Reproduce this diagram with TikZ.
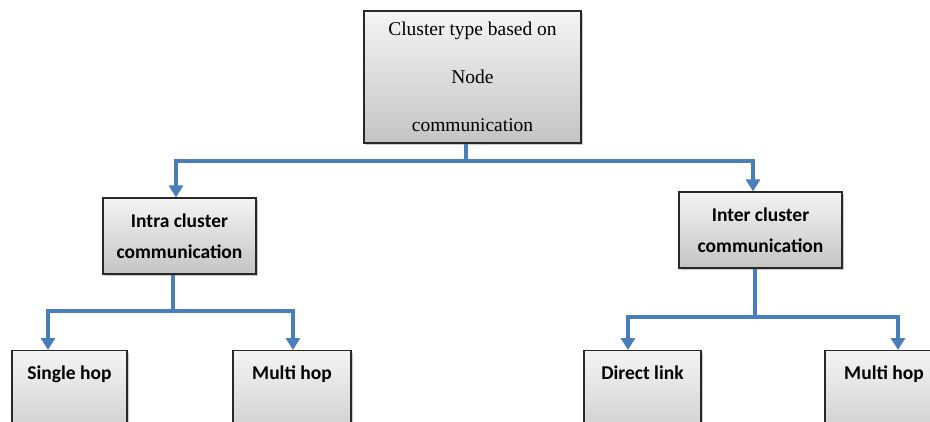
\documentclass[tikz,border=0pt]{standalone}
\usepackage{fontspec}
\setmainfont{Liberation Serif}
\newfontfamily\labelfont{Carlito}
\usetikzlibrary{arrows.meta,shadows}

\definecolor{linkblue}{RGB}{74,126,187}
\definecolor{boxtop}{RGB}{244,244,244}
\definecolor{boxbottom}{RGB}{196,196,196}
\definecolor{boxedge}{RGB}{40,40,40}

\tikzset{
  box/.style={draw=boxedge, line width=1.1pt, top color=boxtop, bottom color=boxbottom,
    inner sep=0pt, align=center,
    drop shadow={shadow xshift=2pt, shadow yshift=-2pt, opacity=0.35, fill=black!60}},
  headbox/.style={box, font=\fontsize{19.5}{48}\selectfont},
  midbox/.style={box, font=\labelfont\bfseries\fontsize{19.5}{31}\selectfont},
  leafbox/.style={box, anchor=north, font=\labelfont\bfseries\fontsize{19.5}{23}\selectfont,
    text height=28.5pt, text depth=80pt},
  link/.style={draw=linkblue, line width=4pt},
  arrowlink/.style={link, -{Triangle[width=14pt,length=12pt]}},
}

\begin{document}
\begin{tikzpicture}[x=1pt,y=1pt]
  \useasboundingbox (0,0) rectangle (930,421);
  \clip (0,0) rectangle (930,421);

  % root of the classification
  \node[headbox, minimum width=217pt, minimum height=132pt] (root) at (472.5,344)
    {Cluster type based on\\Node\\communication};

  % second level
  \node[midbox, minimum width=153pt, minimum height=76pt] (intra) at (179.5,185)
    {Intra cluster\\communication};
  \node[midbox, minimum width=163pt, minimum height=76pt] (inter) at (760.5,191)
    {Inter cluster\\communication};

  % leaves (cut off by the lower edge)
  \node[leafbox, minimum width=115pt] (single) at (69.5,71) {Single hop};
  \node[leafbox, minimum width=118pt] (multiA) at (292,71) {Multi hop};
  \node[leafbox, minimum width=117pt] (direct) at (642.5,71) {Direct link};
  \node[leafbox, minimum width=118pt] (multiB) at (884,71) {Multi hop};

  % branching points
  \coordinate (rootfork) at (466,260);
  \coordinate (intrafork) at (173,110);
  \coordinate (interfork) at (755,104);

  % connectors from the root
  \draw[link] (root.south -| rootfork) -- (rootfork);
  \draw[arrowlink] (rootfork) -| ([xshift=-3.5pt]intra.north);
  \draw[arrowlink] (rootfork) -| ([xshift=-7.5pt]inter.north);

  % connectors from intra cluster communication
  \draw[link] (intra.south -| intrafork) -- (intrafork);
  \draw[arrowlink] (intrafork) -| ([xshift=-21.5pt]single.north);
  \draw[arrowlink] (intrafork) -| ([xshift=1pt]multiA.north);

  % connectors from inter cluster communication
  \draw[link] (inter.south -| interfork) -- (interfork);
  \draw[arrowlink] (interfork) -| ([xshift=-14.5pt]direct.north);
  \draw[arrowlink] (interfork) -| ([xshift=14pt]multiB.north);
\end{tikzpicture}
\end{document}
